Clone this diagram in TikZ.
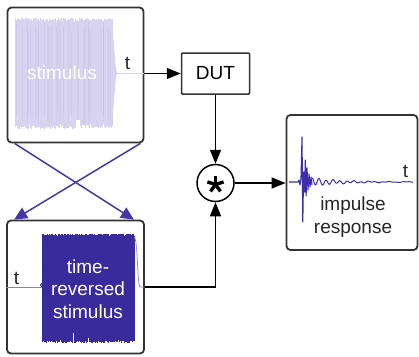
\documentclass[tikz,border=0pt]{standalone}
\usepackage{fontspec}
\setmainfont{Liberation Sans}
\usetikzlibrary{arrows.meta}
\definecolor{frame}{HTML}{333333}
\definecolor{wave}{HTML}{3A2B9C}
\definecolor{lav}{HTML}{D8D3EE}
\definecolor{lavdark}{HTML}{C4BCE4}
\definecolor{xline}{HTML}{4636A6}
\definecolor{irline}{HTML}{3D2EAA}
\begin{document}
\begin{tikzpicture}[x=1pt,y=-1pt,
  font=\fontsize{19}{22.5}\selectfont,
  panel/.style={draw=frame, fill=white, line width=1.8pt, rounded corners=4pt, inner sep=0pt},
  blockbox/.style={draw=frame, fill=white, line width=1.5pt, rounded corners=1pt, inner sep=0pt},
  arr/.style={line width=1.4pt, draw=black, -{Triangle[length=14pt,width=11pt]}},
  crossarr/.style={line width=1.5pt, draw=xline, -{Triangle[length=13pt,width=12pt]}},
  lbl/.style={inner sep=0pt, text=black!85},
  wtext/.style={inner sep=0pt, text=white, align=center}]
\useasboundingbox (0,0) rectangle (419,356);

% panels and blocks
\node[panel, minimum width=136pt, minimum height=135pt] (stim) at (75.5,75) {};
\node[panel, minimum width=137pt, minimum height=133pt] (rev) at (75.5,287) {};
\node[panel, minimum width=131pt, minimum height=135pt] (ir) at (352,182.5) {};
\node[blockbox, minimum width=68pt, minimum height=41pt] (dut) at (215.5,73.5) {DUT};
\node[circle, draw=black, fill=white, line width=1.5pt, minimum size=37pt, inner sep=0pt] (conv) at (215.5,183) {};

% forward stimulus (light sweep): solid body, ragged edges, faint streaks
\fill[lav] (15,24) rectangle (112.5,122);
\pgfmathsetseed{3}
\foreach \k in {0,...,195}{
  \pgfmathsetmacro\xx{15+0.5*\k}
  \pgfmathsetmacro\up{51+4*rnd}
  \pgfmathsetmacro\dn{50+6*rnd}
  \draw[lav, line width=0.6pt] (\xx,{73-\up}) -- (\xx,{73+\dn});
}
\foreach \k in {0,...,40}{
  \pgfmathsetmacro\xx{15+98*rnd}
  \pgfmathsetmacro\up{40+14*rnd}
  \pgfmathsetmacro\dn{38+16*rnd}
  \draw[lavdark, opacity=0.3, line width=0.3pt] (\xx,{73-\up}) -- (\xx,{73+\dn});
}
\fill[white] (76,120) rectangle (80,131);
\fill[lav] (112,22) -- (116,70) -- (117.5,73) -- (116,76) -- (112,126) -- cycle;
\draw[lav, line width=0.6pt] (117,73) -- (stim.east |- 0,73);

% reversed stimulus (dark sweep)
\fill[wave] (42,237) rectangle (134,340);
\foreach \k in {0,...,184}{
  \pgfmathsetmacro\xx{42+0.5*\k}
  \pgfmathsetmacro\up{236-2.5*rnd}
  \pgfmathsetmacro\dn{340+3*rnd}
  \draw[wave, line width=0.7pt] (\xx,\up) -- (\xx,\dn);
}
\draw[white, line width=0.8pt] (73,344) -- (73,333) (88,344) -- (88,338) (60,344) -- (60,340) (118,344) -- (118,340);
\draw[wave!60, line width=0.7pt] (134,237) .. controls (138,238) and (137,284) .. (140,287) -- (144,287);
\draw[wave!60, line width=0.7pt] (rev.west |- 0,287) -- (42,287);
\draw[wave, line width=1pt] (42,287) -- (40.5,285) -- (42,283);

% impulse response trace
\draw[irline, line width=1.1pt, line join=round]
  (289,182) -- (298,182) -- (299,180) -- (300,185) -- (301,178) -- (302,137) -- (302.8,222)
  -- (303.6,172) -- (304.5,192) -- (305.3,160) -- (306.1,196) -- (307,168) -- (308,190)
  -- (309,174) -- (310,187) -- (311,177) -- (312,185);
\draw[irline, line width=1pt, domain=0:101, samples=200, smooth]
  plot ({312+\x}, {182 - 4*exp(-\x/28)*sin(51.4*\x+90) - 0.7*sin(20*\x)*exp(-\x/120)});

% convolution star
\foreach \a in {270,342,54,126,198}
  \draw[line width=3.4pt] (215.5,184.5) -- ++(\a:8.5);

% labels
\node[wtext] (stimtxt) at (62,73) {stimulus};
\node[wtext] (revtxt) at (88,289) {time-\\reversed\\stimulus};
\node[lbl] (t1) at (127.5,63) {t};
\node[lbl] (t2) at (16.5,278) {t};
\node[lbl] (t3) at (405.5,171) {t};
\node[lbl, align=center] (irtxt) at (353,217) {impulse\\response};

% connectors
\draw[arr] (dut.west -| stim.east) -- (dut.west);
\draw[arr] (dut.south) -- (conv.north);
\draw[arr] (conv.east) -- (conv.east -| ir.west);
\draw[arr] (rev.east) -| (conv.south);
\draw[crossarr] ([xshift=8pt]stim.south west) -- ([xshift=-11pt]rev.north east);
\draw[crossarr] ([xshift=-4pt]stim.south east) -- ([xshift=8pt]rev.north west);
\end{tikzpicture}
\end{document}
